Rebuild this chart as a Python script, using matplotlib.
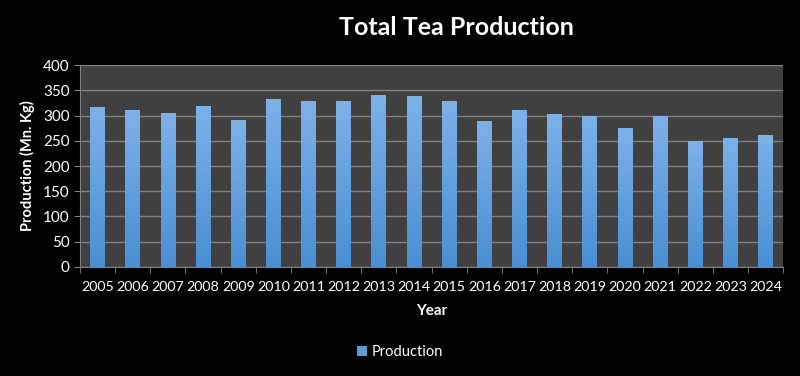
import numpy as np
import matplotlib.pyplot as plt
from matplotlib.colors import LinearSegmentedColormap

years = [str(y) for y in range(2005, 2025)]
production = [317, 311, 305, 319, 291, 333, 328, 328, 340, 338,
              329, 290, 310, 304, 300, 275, 300, 250, 256, 262]

plt.rcParams['font.family'] = ['Lato', 'DejaVu Sans']

fig = plt.figure(figsize=(8, 3.76), dpi=100, facecolor='black')
ax = fig.add_axes([0.1, 0.29, 0.879, 0.537])
ax.set_facecolor('#404040')

x = np.arange(len(years))
bars = ax.bar(x, production, width=0.42, color='#5b9bd5', zorder=3, label='Production')

# vertical gradient on each bar
cmap = LinearSegmentedColormap.from_list('g', ['#4a8ed4', '#7db1e8'])
grad = np.linspace(0, 1, 256).reshape(-1, 1)
for b in bars:
    x0, w, h = b.get_x(), b.get_width(), b.get_height()
    im = ax.imshow(grad, cmap=cmap, aspect='auto', origin='lower',
                   extent=[x0, x0 + w, 0, h], zorder=3.5)
    im.set_clip_path(b)

ax.set_xlim(-0.5, len(years) - 0.5)
ax.set_ylim(0, 400)
ax.set_yticks(np.arange(0, 401, 50))
ax.grid(axis='y', color='#808080', linewidth=1, zorder=1)
ax.set_xticks(x)
ax.set_xticklabels(years)
ax.set_xticks(np.arange(-0.5, len(years), 1), minor=True)
ax.tick_params(axis='x', which='major', length=0, colors='white', labelsize=10.3, pad=10)
ax.tick_params(axis='x', which='minor', length=4, color='#808080')
ax.tick_params(axis='y', length=4, color='#808080', colors='white', labelsize=11)
for s in ['top', 'right']:
    ax.spines[s].set_visible(False)
for s in ['left', 'bottom']:
    ax.spines[s].set_color('#808080')

ax.set_xlabel('Year', color='white', fontsize=11, fontweight='bold', labelpad=8)
ax.set_ylabel('Production (Mn. Kg)', color='white', fontsize=10.5, fontweight='bold', labelpad=6)

fig.text(0.571, 0.928, 'Total Tea Production', color='white', fontsize=18,
         fontweight='bold', ha='center', va='center')

leg = fig.legend(handles=[bars], labels=['Production'], loc='center',
                 bbox_to_anchor=(0.5, 0.064), frameon=False, fontsize=10.5,
                 handlelength=0.7, handleheight=0.7, handletextpad=0.3)
for t in leg.get_texts():
    t.set_color('white')

fig.savefig('out.png', dpi=100, facecolor='black')
